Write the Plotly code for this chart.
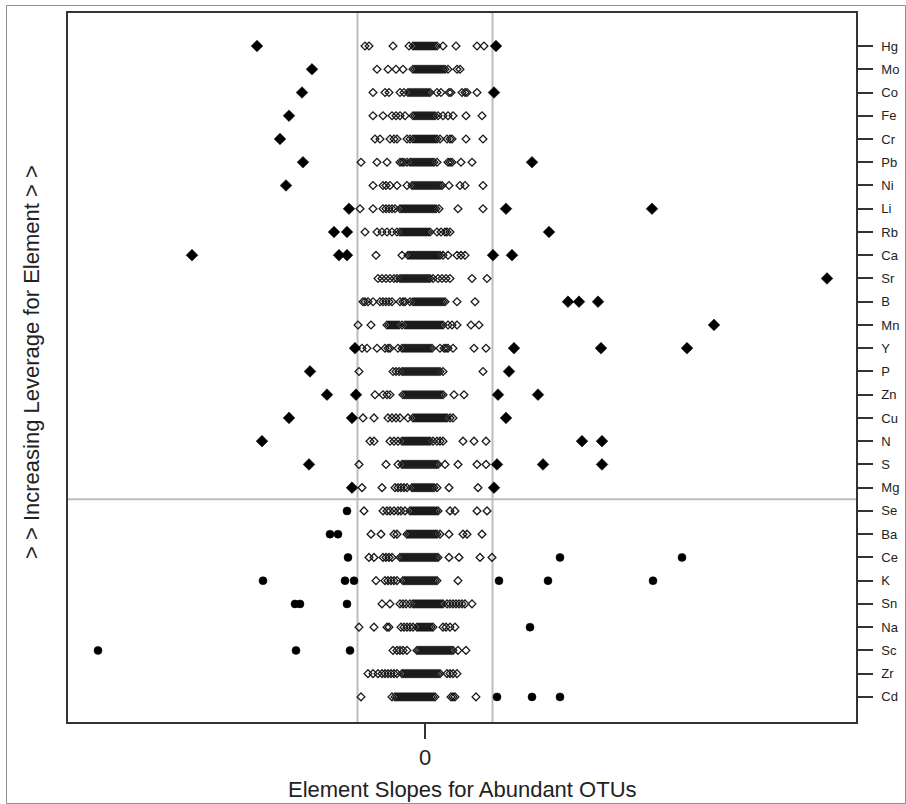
import plotly.graph_objects as go

# ---------------- data ----------------
elements = ["Hg", "Mo", "Co", "Fe", "Cr", "Pb", "Ni", "Li", "Rb", "Ca",
            "Sr", "B", "Mn", "Y", "P", "Zn", "Cu", "N", "S", "Mg",
            "Se", "Ba", "Ce", "K", "Sn", "Na", "Sc", "Zr", "Cd"]

# slopes inside the reference band (open symbols)
inner_slopes = [
    [-0.60,-0.56,-0.32,-0.16,-0.12,-0.10,-0.08,-0.06,-0.04,-0.02,0.00,0.02,0.04,0.06,0.08,0.10,0.12,0.18,0.31,0.52,0.59],
    [-0.48,-0.37,-0.29,-0.22,-0.12,-0.10,-0.08,-0.06,-0.04,-0.02,0.00,0.02,0.04,0.06,0.08,0.10,0.12,0.14,0.16,0.18,0.20,0.23,0.32,0.35],
    [-0.52,-0.40,-0.36,-0.25,-0.21,-0.17,-0.15,-0.13,-0.11,-0.09,-0.07,-0.05,-0.03,-0.01,0.01,0.03,0.05,0.12,0.16,0.24,0.26,0.37,0.40,0.42,0.52],
    [-0.52,-0.42,-0.33,-0.29,-0.25,-0.20,-0.12,-0.10,-0.08,-0.06,-0.04,-0.02,0.00,0.02,0.04,0.06,0.08,0.10,0.13,0.18,0.23,0.28,0.41,0.57],
    [-0.50,-0.45,-0.35,-0.31,-0.28,-0.18,-0.15,-0.12,-0.10,-0.08,-0.06,-0.04,-0.02,0.00,0.02,0.04,0.06,0.08,0.10,0.12,0.15,0.22,0.25,0.27,0.41,0.58],
    [-0.64,-0.48,-0.38,-0.25,-0.23,-0.21,-0.18,-0.15,-0.13,-0.11,-0.09,-0.07,-0.05,-0.03,-0.01,0.01,0.03,0.05,0.07,0.09,0.12,0.23,0.25,0.27,0.36,0.47],
    [-0.52,-0.42,-0.39,-0.35,-0.28,-0.18,-0.13,-0.11,-0.09,-0.07,-0.05,-0.03,-0.01,0.01,0.03,0.05,0.07,0.09,0.11,0.13,0.15,0.17,0.24,0.35,0.40,0.58],
    [-0.65,-0.52,-0.42,-0.39,-0.36,-0.33,-0.30,-0.25,-0.23,-0.21,-0.19,-0.17,-0.15,-0.13,-0.11,-0.09,-0.07,-0.05,-0.03,-0.01,0.01,0.03,0.05,0.07,0.09,0.11,0.14,0.33,0.58],
    [-0.60,-0.48,-0.43,-0.38,-0.33,-0.28,-0.25,-0.23,-0.21,-0.19,-0.17,-0.15,-0.13,-0.11,-0.09,-0.07,-0.05,-0.03,-0.01,0.01,0.03,0.05,0.12,0.16,0.20,0.22,0.25],
    [-0.49,-0.23,-0.17,-0.15,-0.13,-0.11,-0.09,-0.07,-0.05,-0.03,-0.01,0.01,0.03,0.05,0.07,0.09,0.11,0.13,0.15,0.18,0.23,0.32,0.36,0.40],
    [-0.47,-0.43,-0.39,-0.35,-0.31,-0.28,-0.25,-0.23,-0.21,-0.19,-0.17,-0.15,-0.13,-0.11,-0.09,-0.07,-0.05,-0.03,-0.01,0.01,0.03,0.05,0.08,0.13,0.17,0.21,0.25,0.47,0.62],
    [-0.62,-0.60,-0.57,-0.52,-0.45,-0.42,-0.39,-0.36,-0.33,-0.25,-0.22,-0.20,-0.15,-0.12,-0.10,-0.08,-0.06,-0.04,-0.02,0.00,0.02,0.04,0.06,0.08,0.10,0.12,0.14,0.16,0.18,0.20,0.32,0.50],
    [-0.67,-0.54,-0.38,-0.36,-0.34,-0.32,-0.30,-0.28,-0.26,-0.23,-0.20,-0.18,-0.16,-0.14,-0.12,-0.10,-0.08,-0.06,-0.04,-0.02,0.00,0.02,0.04,0.06,0.08,0.10,0.12,0.14,0.16,0.18,0.23,0.27,0.32,0.46,0.54],
    [-0.63,-0.58,-0.48,-0.40,-0.37,-0.35,-0.27,-0.23,-0.21,-0.19,-0.17,-0.15,-0.13,-0.11,-0.09,-0.07,-0.05,-0.03,-0.01,0.01,0.03,0.05,0.07,0.15,0.19,0.21,0.23,0.28,0.49,0.61],
    [-0.66,-0.32,-0.29,-0.26,-0.23,-0.21,-0.19,-0.17,-0.15,-0.13,-0.11,-0.09,-0.07,-0.05,-0.03,-0.01,0.01,0.03,0.05,0.07,0.09,0.11,0.13,0.15,0.18,0.58],
    [-0.50,-0.42,-0.38,-0.35,-0.22,-0.20,-0.18,-0.16,-0.14,-0.12,-0.10,-0.08,-0.06,-0.04,-0.02,0.00,0.02,0.04,0.06,0.08,0.10,0.12,0.14,0.16,0.18,0.29,0.39],
    [-0.62,-0.51,-0.37,-0.33,-0.29,-0.25,-0.17,-0.12,-0.10,-0.08,-0.06,-0.04,-0.02,0.00,0.02,0.04,0.06,0.08,0.10,0.12,0.14,0.16,0.18,0.20,0.22,0.25,0.28],
    [-0.55,-0.51,-0.35,-0.31,-0.27,-0.23,-0.21,-0.19,-0.17,-0.15,-0.13,-0.11,-0.09,-0.07,-0.05,-0.03,-0.01,0.01,0.03,0.05,0.08,0.12,0.15,0.18,0.38,0.49,0.61],
    [-0.66,-0.39,-0.27,-0.23,-0.21,-0.19,-0.17,-0.15,-0.13,-0.11,-0.09,-0.07,-0.05,-0.03,-0.01,0.01,0.03,0.05,0.07,0.09,0.11,0.13,0.20,0.33,0.52,0.61],
    [-0.63,-0.43,-0.30,-0.27,-0.24,-0.21,-0.18,-0.13,-0.11,-0.09,-0.07,-0.05,-0.03,-0.01,0.01,0.03,0.05,0.07,0.09,0.12,0.24,0.53],
    [-0.61,-0.42,-0.38,-0.35,-0.31,-0.27,-0.24,-0.20,-0.15,-0.13,-0.11,-0.09,-0.07,-0.05,-0.03,-0.01,0.01,0.03,0.05,0.07,0.09,0.11,0.13,0.25,0.30,0.52,0.62],
    [-0.54,-0.44,-0.31,-0.28,-0.18,-0.16,-0.14,-0.12,-0.10,-0.08,-0.06,-0.04,-0.02,0.00,0.02,0.04,0.06,0.08,0.10,0.12,0.15,0.24,0.38,0.42,0.57],
    [-0.56,-0.51,-0.42,-0.39,-0.36,-0.33,-0.25,-0.23,-0.21,-0.19,-0.17,-0.15,-0.13,-0.11,-0.09,-0.07,-0.05,-0.03,-0.01,0.01,0.03,0.05,0.07,0.09,0.11,0.13,0.24,0.34,0.55,0.67],
    [-0.49,-0.40,-0.37,-0.34,-0.31,-0.28,-0.22,-0.20,-0.18,-0.16,-0.14,-0.12,-0.10,-0.08,-0.06,-0.04,-0.02,0.00,0.02,0.04,0.06,0.08,0.10,0.12,0.33],
    [-0.43,-0.35,-0.25,-0.22,-0.19,-0.15,-0.12,-0.10,-0.08,-0.06,-0.04,-0.02,0.00,0.02,0.04,0.06,0.08,0.10,0.12,0.14,0.16,0.18,0.22,0.25,0.28,0.31,0.34,0.37,0.40,0.47],
    [-0.66,-0.51,-0.38,-0.36,-0.24,-0.21,-0.18,-0.15,-0.12,-0.08,-0.06,-0.04,-0.02,0.00,0.02,0.04,0.06,0.08,0.18,0.21,0.25,0.30],
    [-0.32,-0.28,-0.25,-0.22,-0.18,-0.08,-0.06,-0.04,-0.02,0.00,0.02,0.04,0.06,0.08,0.10,0.12,0.14,0.16,0.18,0.20,0.22,0.24,0.26,0.28,0.33,0.41],
    [-0.57,-0.52,-0.47,-0.43,-0.40,-0.37,-0.34,-0.31,-0.28,-0.23,-0.21,-0.19,-0.17,-0.15,-0.13,-0.11,-0.09,-0.07,-0.05,-0.03,-0.01,0.01,0.03,0.05,0.07,0.09,0.11,0.13,0.15,0.22,0.25,0.28,0.32],
    [-0.64,-0.33,-0.30,-0.28,-0.26,-0.24,-0.22,-0.20,-0.18,-0.16,-0.14,-0.12,-0.10,-0.08,-0.06,-0.04,-0.02,0.00,0.02,0.04,0.06,0.08,0.10,0.26,0.28,0.30,0.51],
]

# slopes outside the reference band (filled symbols)
outer_slopes = [
    [-1.68, 0.71],
    [-1.13],
    [-1.23, 0.69],
    [-1.36],
    [-1.45],
    [-1.22, 1.07],
    [-1.39],
    [-0.76, 0.81, 2.27],
    [-0.91, -0.78, 1.24],
    [-2.33, -0.86, -0.78, 0.68, 0.87],
    [4.02],
    [1.43, 1.54, 1.73],
    [2.89],
    [-0.70, 0.89, 1.76, 2.62],
    [-1.15, 0.84],
    [-0.98, -0.69, 0.73, 1.13],
    [-1.36, -0.73, 0.81],
    [-1.63, 1.57, 1.77],
    [-1.16, 0.72, 1.18, 1.77],
    [-0.73, 0.69],
    [-0.78],
    [-0.95, -0.87],
    [-0.77, 1.35, 2.57],
    [-1.62, -0.80, -0.71, 0.74, 1.23, 2.28],
    [-1.30, -1.25, -0.78],
    [1.05],
    [-3.27, -1.29, -0.75],
    [],
    [0.72, 1.07, 1.35],
]

band_limit = 0.675          # position of the two vertical reference lines
leverage_split = 20         # first element below the horizontal divider (Se)
x_tick_vals = [0]
x_tick_text = ["0"]

# ---------------- build traces ----------------
xi, yi = [], []
for row, vals in enumerate(inner_slopes):
    for v in vals:
        xi.append(v)
        yi.append(row)

xo_hi, yo_hi, xo_lo, yo_lo = [], [], [], []
for row, vals in enumerate(outer_slopes):
    for v in vals:
        if row < leverage_split:
            xo_hi.append(v); yo_hi.append(row)
        else:
            xo_lo.append(v); yo_lo.append(row)

FONT = "Liberation Sans, Arial, sans-serif"

fig = go.Figure()
fig.add_trace(go.Scatter(
    x=xi, y=yi, mode="markers", showlegend=False, hoverinfo="x+y",
    marker=dict(symbol="diamond-open", size=6, color="#1a1a1a",
                line=dict(width=1.3, color="#1a1a1a"))))
fig.add_trace(go.Scatter(
    x=xo_hi, y=yo_hi, mode="markers", showlegend=False,
    marker=dict(symbol="diamond", size=9, color="black",
                line=dict(width=0.5, color="black"))))
fig.add_trace(go.Scatter(
    x=xo_lo, y=yo_lo, mode="markers", showlegend=False,
    marker=dict(symbol="circle", size=8, color="black",
                line=dict(width=0.5, color="black"))))

n = len(elements)
shapes = [
    dict(type="line", xref="x", yref="paper", x0=-band_limit, x1=-band_limit,
         y0=0, y1=1, line=dict(color="#bdbdbd", width=2), layer="below"),
    dict(type="line", xref="x", yref="paper", x0=band_limit, x1=band_limit,
         y0=0, y1=1, line=dict(color="#bdbdbd", width=2), layer="below"),
    dict(type="line", xref="paper", yref="y", x0=0, x1=1,
         y0=leverage_split - 0.5, y1=leverage_split - 0.5,
         line=dict(color="#bdbdbd", width=2), layer="below"),
]

W, H = 906, 804
ml, mr, mt, mb = 68, 906 - 856, 13, 804 - 722
pw, ph = W - ml - mr, H - mt - mb
def px2paper_x(px): return (px - ml) / pw
def px2paper_y(py): return (H - mb - py) / ph

# light outer picture frame (left and top edges visible)
shapes.append(dict(type="rect", xref="paper", yref="paper",
                   x0=px2paper_x(6.5), x1=px2paper_x(905.5),
                   y0=px2paper_y(803.5), y1=px2paper_y(5.5),
                   line=dict(color="#909090", width=1), fillcolor="rgba(0,0,0,0)",
                   layer="below"))

fig.update_layout(
    width=W, height=H,
    margin=dict(l=ml, r=mr, t=mt, b=mb, autoexpand=False),
    paper_bgcolor="white", plot_bgcolor="white",
    font=dict(family=FONT, color="#222"),
    shapes=shapes,
    annotations=[
        dict(text="Element Slopes for Abundant OTUs", xref="paper", yref="paper",
             x=0.5, y=px2paper_y(775), xanchor="center", yanchor="top",
             showarrow=False, font=dict(size=22, family=FONT, color="#222")),
        dict(text="> > Increasing Leverage for Element > >", xref="paper", yref="paper",
             x=px2paper_x(31), y=px2paper_y(362), xanchor="center", yanchor="middle",
             textangle=-90, showarrow=False,
             font=dict(size=22, family=FONT, color="#222")),
    ],
)
fig.update_xaxes(
    range=[-3.57, 4.31], showgrid=False, zeroline=False,
    showline=True, mirror=True, linecolor="#333", linewidth=1.5,
    ticks="outside", ticklen=15, tickwidth=1.5, tickcolor="#333",
    tickvals=x_tick_vals, ticktext=x_tick_text,
    tickfont=dict(size=22, family=FONT, color="#222"),
)
fig.update_yaxes(
    range=[n + 0.08, -1.42], side="right", showgrid=False, zeroline=False,
    showline=True, mirror=True, linecolor="#333", linewidth=1.5,
    ticks="outside", ticklen=15, tickwidth=1.5, tickcolor="#333",
    tickvals=list(range(n)), ticktext=elements, ticklabelstandoff=6,
    tickfont=dict(size=13, family=FONT, color="#222"),
)

# remove the default 8px page margin so the figure fills the window exactly
fig.write_html("out.html",
               config={"displayModeBar": False},
               post_script="document.body.style.margin='0px';document.body.style.overflow='hidden';")
